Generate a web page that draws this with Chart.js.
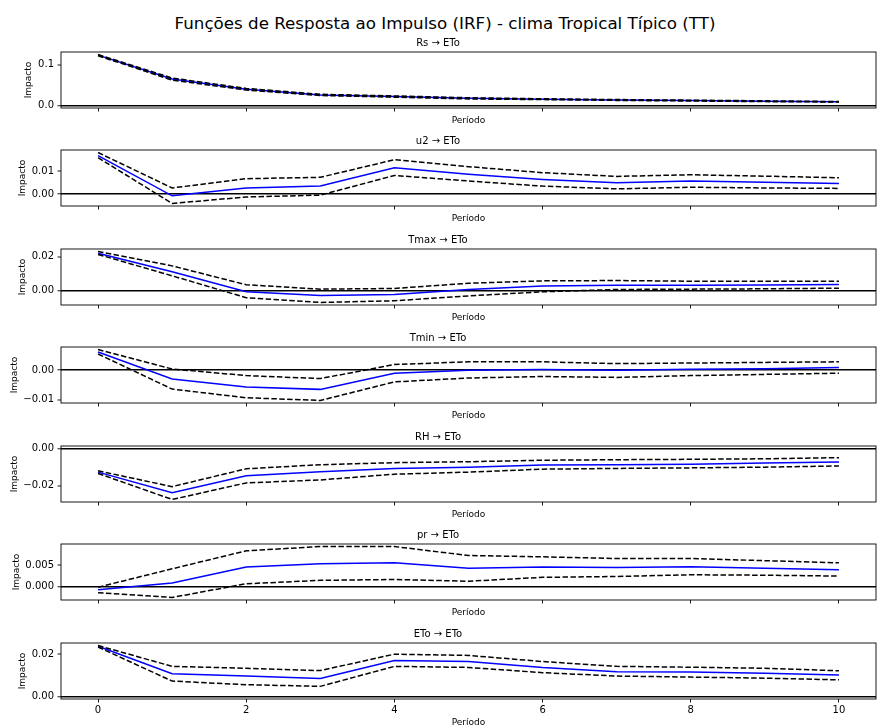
<!DOCTYPE html>
<html><head><meta charset="utf-8">
<script src="https://cdn.jsdelivr.net/npm/chart.js@4.4.1/dist/chart.umd.min.js"></script>
<style>
html,body{margin:0;padding:0;background:#fff;width:878px;height:728px;overflow:hidden;}
#wrap{position:relative;width:878px;height:728px;}
#sup{position:absolute;left:0;top:12px;width:890px;text-align:center;font-family:"DejaVu Sans";font-size:16.7px;line-height:22px;color:#000;white-space:nowrap;}
canvas{position:absolute;left:0;}
</style></head><body><div id="wrap"><div id="sup">Funções de Resposta ao Impulso (IRF) - clima Tropical Típico (TT)</div></div>
<script>
// ---- data ----
const periods = [0,1,2,3,4,5,6,7,8,9,10];
const xTicks = [0,2,4,6,8,10];
const panelTitles = ['Rs → ETo','u2 → ETo','Tmax → ETo','Tmin → ETo','RH → ETo','pr → ETo','ETo → ETo'];

const rsIrf   = [0.124, 0.065, 0.040, 0.026, 0.022, 0.0175, 0.0155, 0.0135, 0.012, 0.0105, 0.009];
const rsUpper = [0.1255, 0.0675, 0.042, 0.0275, 0.0235, 0.019, 0.0165, 0.0145, 0.013, 0.0115, 0.0095];
const rsLower = [0.1225, 0.0625, 0.038, 0.0245, 0.0205, 0.016, 0.0145, 0.0125, 0.011, 0.0095, 0.0085];

const u2Irf   = [0.0167, -0.0007, 0.0027, 0.0035, 0.0114, 0.0086, 0.0064, 0.0049, 0.0057, 0.0052, 0.0046];
const u2Upper = [0.0180, 0.0027, 0.0067, 0.0073, 0.0149, 0.0119, 0.0093, 0.0077, 0.0084, 0.0078, 0.0071];
const u2Lower = [0.0158, -0.0040, -0.0012, -0.0004, 0.0081, 0.0057, 0.0035, 0.0023, 0.0030, 0.0027, 0.0025];

const tmaxIrf   = [0.0221, 0.0111, -0.0008, -0.0030, -0.0024, 0.0006, 0.0026, 0.0031, 0.0031, 0.0033, 0.0036];
const tmaxUpper = [0.0231, 0.0146, 0.0034, 0.0008, 0.0012, 0.0043, 0.0057, 0.0059, 0.0055, 0.0055, 0.0055];
const tmaxLower = [0.0214, 0.0087, -0.0043, -0.0071, -0.0061, -0.0032, -0.0008, 0.0006, 0.0008, 0.0010, 0.0014];

const tminIrf   = [0.0060, -0.0030, -0.0057, -0.0065, -0.0011, -0.0001, 0.0001, -0.0001, 0.0002, 0.0004, 0.0008];
const tminUpper = [0.0068, 0.0003, -0.0019, -0.0029, 0.0018, 0.0027, 0.0027, 0.0021, 0.0023, 0.0025, 0.0027];
const tminLower = [0.0053, -0.0064, -0.0093, -0.0102, -0.0040, -0.0027, -0.0022, -0.0025, -0.0019, -0.0015, -0.0011];

const rhIrf   = [-0.0127, -0.0238, -0.0147, -0.0125, -0.0107, -0.0101, -0.0089, -0.0087, -0.0084, -0.0078, -0.0073];
const rhUpper = [-0.0120, -0.0205, -0.0109, -0.0087, -0.0076, -0.0071, -0.0063, -0.0060, -0.0058, -0.0055, -0.0049];
const rhLower = [-0.0134, -0.0274, -0.0185, -0.0169, -0.0138, -0.0127, -0.0111, -0.0107, -0.0104, -0.0100, -0.0094];

const prIrf   = [-0.0008, 0.0008, 0.0045, 0.0053, 0.0055, 0.0042, 0.0045, 0.0044, 0.0046, 0.0042, 0.0039];
const prUpper = [-0.0002, 0.0041, 0.0083, 0.0093, 0.0093, 0.0072, 0.0069, 0.0065, 0.0065, 0.0060, 0.0055];
const prLower = [-0.0015, -0.0026, 0.0006, 0.0014, 0.0016, 0.0012, 0.0021, 0.0023, 0.0027, 0.0026, 0.0024];

const etoIrf   = [0.0239, 0.0108, 0.0097, 0.0085, 0.0171, 0.0166, 0.0138, 0.0118, 0.0116, 0.0110, 0.0102];
const etoUpper = [0.0242, 0.0143, 0.0134, 0.0123, 0.0201, 0.0195, 0.0166, 0.0143, 0.0139, 0.0134, 0.0122];
const etoLower = [0.0235, 0.0073, 0.0056, 0.0048, 0.0143, 0.0138, 0.0113, 0.0097, 0.0092, 0.0087, 0.0079];

const rsYTicks = [0, 0.1],        rsYLabels = ['0.0', '0.1'];
const u2YTicks = [0, 0.01],       u2YLabels = ['0.00', '0.01'];
const tmaxYTicks = [0, 0.02],     tmaxYLabels = ['0.00', '0.02'];
const tminYTicks = [-0.01, 0],    tminYLabels = ['\u22120.01', '0.00'];
const rhYTicks = [-0.02, 0],      rhYLabels = ['\u22120.02', '0.00'];
const prYTicks = [0, 0.005],      prYLabels = ['0.000', '0.005'];
const etoYTicks = [0, 0.02],      etoYLabels = ['0.00', '0.02'];

// ---- build ----
const panels = [
  [rsIrf, rsUpper, rsLower, rsYTicks, rsYLabels],
  [u2Irf, u2Upper, u2Lower, u2YTicks, u2YLabels],
  [tmaxIrf, tmaxUpper, tmaxLower, tmaxYTicks, tmaxYLabels],
  [tminIrf, tminUpper, tminLower, tminYTicks, tminYLabels],
  [rhIrf, rhUpper, rhLower, rhYTicks, rhYLabels],
  [prIrf, prUpper, prLower, prYTicks, prYLabels],
  [etoIrf, etoUpper, etoLower, etoYTicks, etoYLabels]
];

Chart.defaults.font.family = '"DejaVu Sans"';
Chart.defaults.color = '#000';

const framePlugin = {
  id: 'frame',
  afterDatasetsDraw(chart) {
    const {ctx, chartArea: a} = chart;
    ctx.save();
    ctx.strokeStyle = '#000';
    ctx.lineWidth = 0.9;
    ctx.strokeRect(a.left, a.top, a.right - a.left, a.bottom - a.top);
    ctx.restore();
  }
};

const measure = document.createElement('canvas').getContext('2d');
measure.font = '10px "DejaVu Sans"';

const wrap = document.getElementById('wrap');
const axisTops = [52, 150, 249, 347, 446, 544, 643];
const titleH = 18, plotH = 56;

panels.forEach((p, i) => {
  const [irf, up, lo, yt, yl] = p;
  const last = i === panels.length - 1;
  const all = irf.concat(up, lo, [0]);
  const dMin = Math.min(...all), dMax = Math.max(...all);
  const m = (dMax - dMin) * 0.05;
  const xAxisH = last ? 30 : 20;
  const cv = document.createElement('canvas');
  cv.width = 878; cv.height = titleH + plotH + xAxisH;
  cv.style.top = (axisTops[i] - titleH) + 'px';
  wrap.appendChild(cv);

  const lw = Math.max(...yl.map(s => measure.measureText(s).width));
  const yTitleCenter = 54 - lw - 4 - 5;
  const pts = arr => periods.map((x, k) => ({x: x, y: arr[k]}));

  new Chart(cv, {
    type: 'line',
    data: {
      datasets: [
        {data: pts(up), borderColor: '#000', borderWidth: 1.5, borderDash: [5.5, 2.4], pointRadius: 0, fill: false, tension: 0},
        {data: pts(lo), borderColor: '#000', borderWidth: 1.5, borderDash: [5.5, 2.4], pointRadius: 0, fill: false, tension: 0},
        {data: pts(irf), borderColor: '#0000ff', borderWidth: 1.5, pointRadius: 0, fill: false, tension: 0}
      ]
    },
    options: {
      responsive: false,
      animation: false,
      devicePixelRatio: 1,
      layout: {padding: {left: 0, right: 2, top: 0, bottom: 0}},
      plugins: {
        legend: {display: false},
        tooltip: {enabled: false},
        title: {display: true, text: panelTitles[i], font: {size: 10, weight: 'normal'}, color: '#000', padding: {top: 3.5, bottom: 2.5}}
      },
      scales: {
        x: {
          type: 'linear', min: -0.5, max: 10.5,
          afterBuildTicks: s => { s.ticks = xTicks.map(v => ({value: v})); },
          afterFit: s => { s.height = xAxisH; },
          ticks: {display: last, font: {size: 10}, color: '#000', padding: 2, maxRotation: 0, callback: v => String(v)},
          grid: {drawOnChartArea: false, drawTicks: true, tickLength: 3.5, tickColor: '#000', tickWidth: 0.9},
          border: {display: false},
          title: {display: true, text: 'Período', font: {size: 9}, color: '#000', padding: {top: 0, bottom: last ? 0.6 : 2.1}}
        },
        y: {
          min: dMin - m, max: dMax + m,
          afterBuildTicks: s => { s.ticks = yt.map(v => ({value: v})); },
          afterFit: s => { s.width = 61; },
          ticks: {font: {size: 10}, color: '#000', padding: 3.5, callback: v => yl[yt.indexOf(v)]},
          grid: {
            drawOnChartArea: true, drawTicks: true, tickLength: 3.5, tickColor: '#000', tickWidth: 0.9,
            color: c => (c.tick && c.tick.value === 0) ? '#000' : 'rgba(0,0,0,0)',
            lineWidth: c => (c.tick && c.tick.value === 0) ? 1.5 : 0
          },
          border: {display: false},
          title: {display: true, text: 'Impacto', font: {size: 9}, color: '#000', padding: {top: yTitleCenter - 5.4, bottom: 0}}
        }
      }
    },
    plugins: [framePlugin]
  });
});
</script></body></html>
